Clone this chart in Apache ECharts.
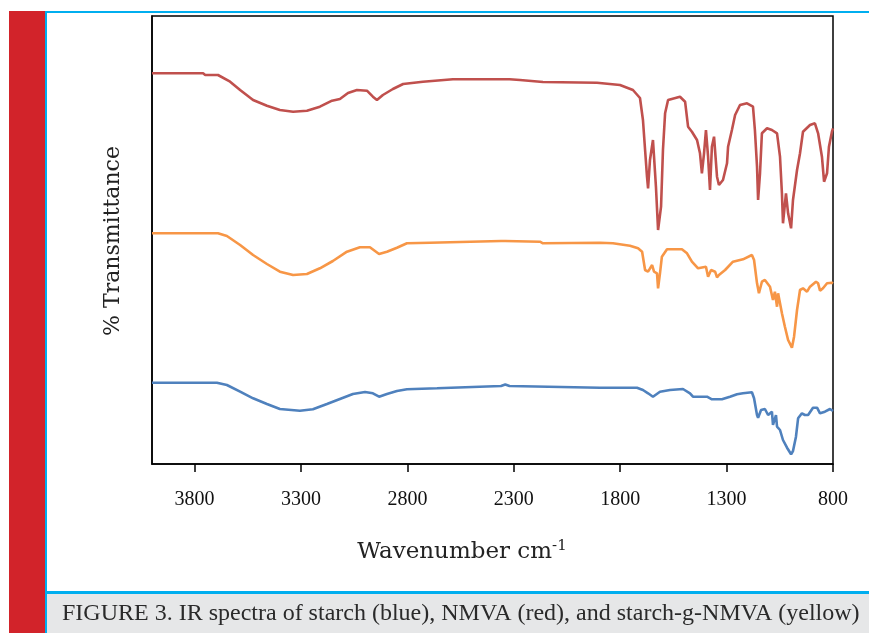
<!DOCTYPE html>
<html>
<head>
<meta charset="utf-8">
<script src="https://cdn.jsdelivr.net/npm/echarts@6/dist/echarts.min.js"></script>
<style>
  html, body { margin: 0; padding: 0; background: #fff; }
  #main { width: 869px; height: 633px; }
</style>
</head>
<body>
<div id="main"></div>
<script>
// x ticks (wavenumber, cm-1)
var tickValues = [3800, 3300, 2800, 2300, 1800, 1300, 800];

// NMVA (red) - offset transmittance, arbitrary units
var nmvaWn = [4000, 3760, 3750, 3690, 3633, 3586, 3525, 3460, 3399, 3337, 3272, 3211, 3154, 3117, 3079, 3037, 2990, 2962, 2943, 2915, 2868, 2820, 2727, 2586, 2340, 2332, 2320, 2271, 2163, 1909, 1801, 1740, 1707, 1693, 1683, 1674, 1669, 1660, 1646, 1641, 1632, 1622, 1608, 1599, 1589, 1575, 1519, 1495, 1481, 1463, 1439, 1425, 1416, 1406, 1397, 1387, 1378, 1369, 1359, 1345, 1336, 1317, 1298, 1293, 1275, 1260, 1237, 1204, 1176, 1167, 1157, 1152, 1143, 1134, 1110, 1087, 1063, 1049, 1040, 1035, 1021, 1011, 997, 988, 969, 955, 941, 908, 885, 870, 852, 842, 828, 819, 805, 800];
var nmvaT = [390.7, 390.7, 389, 389, 382.3, 374, 364, 358.3, 354, 352.3, 353.3, 357.3, 363.3, 365, 371, 374, 373.3, 367.3, 364, 369, 375, 380, 382.3, 384.7, 384.7, 386, 384.7, 384, 382, 381.3, 379, 374, 366, 344, 314, 287.3, 275.7, 304, 324, 307.3, 277.3, 234, 257.3, 314, 350.7, 364, 367.3, 362.3, 337.3, 332.3, 324, 310.7, 290.7, 310.7, 334, 307.3, 274, 317.3, 327.3, 287.3, 279, 284, 300.7, 317.3, 334, 349, 359, 360.7, 357.3, 334, 297.3, 264, 290.7, 330.7, 335.7, 334, 330.7, 307.3, 270.7, 240.7, 270.7, 250.7, 235.7, 264, 294, 310.7, 332.3, 339, 340.7, 330.7, 307.3, 282.3, 290.7, 317.3, 332.3, 335.7];

// starch-g-NMVA (yellow/orange)
var graftWn = [4000, 3690, 3648, 3586, 3525, 3460, 3399, 3337, 3272, 3211, 3150, 3084, 3023, 2976, 2933, 2896, 2849, 2802, 2694, 2360, 2351, 2340, 2177, 2163, 1895, 1834, 1754, 1716, 1697, 1683, 1669, 1650, 1641, 1627, 1622, 1613, 1604, 1580, 1510, 1486, 1463, 1434, 1397, 1387, 1373, 1354, 1345, 1336, 1307, 1270, 1223, 1181, 1171, 1157, 1148, 1134, 1120, 1096, 1082, 1073, 1063, 1058, 1040, 1026, 1011, 993, 983, 969, 955, 941, 922, 908, 880, 870, 861, 847, 828, 805, 800];
var graftT = [230.7, 230.7, 228, 219, 209, 200, 192.3, 189, 190, 195.7, 203, 212.3, 216.7, 216.7, 210, 212.3, 216.3, 220.7, 221.3, 223, 224.5, 223, 222.3, 220.7, 221.3, 220.7, 218.3, 215.7, 212.3, 194, 192.3, 199, 192.3, 190.7, 175.7, 190.7, 207.3, 214.7, 214.7, 210.7, 202.3, 195.7, 197.3, 187.3, 194, 192.3, 186.7, 189, 194, 202.3, 204.7, 209, 204, 180.7, 170.7, 182.3, 184, 177.3, 164, 172.3, 157.3, 170.7, 150.7, 137.3, 124, 116.3, 127.3, 154, 174, 175.7, 172.3, 177.3, 182.3, 180.7, 173.3, 175.7, 180.7, 181.3, 180.7];

// starch (blue)
var starchWn = [4000, 3695, 3648, 3586, 3525, 3460, 3399, 3305, 3244, 3178, 3117, 3056, 2999, 2962, 2933, 2896, 2849, 2802, 2661, 2656, 2360, 2340, 2320, 1895, 1721, 1693, 1669, 1646, 1613, 1566, 1505, 1472, 1458, 1392, 1369, 1322, 1284, 1251, 1223, 1181, 1171, 1157, 1152, 1138, 1120, 1105, 1087, 1082, 1068, 1063, 1049, 1035, 1016, 997, 988, 974, 964, 946, 932, 917, 894, 875, 861, 838, 814, 800];
var starchT = [81.3, 81.3, 79, 72.3, 65.7, 60, 55, 53.3, 54.7, 60, 65, 70, 72, 70.7, 67.3, 70, 73, 74.7, 75.7, 76.7, 78, 79.5, 78, 76.3, 76.3, 74, 70.7, 67.3, 72.3, 74, 75, 70.7, 67.3, 67.3, 64.7, 64.7, 67.3, 69.7, 70.7, 71.7, 65.7, 49, 46.3, 54, 55, 49, 52.3, 39, 49, 37.3, 34, 24, 16.3, 9.7, 13, 27.3, 45.7, 50.7, 49, 49, 56.3, 56.3, 50.7, 52.3, 55, 53];

function pairs(xs, ys) {
    return xs.map(function (x, i) { return [x, ys[i]]; });
}

var chart = echarts.init(document.getElementById('main'));

var lineSeries = function (name, color, xs, ys) {
    return {
        name: name,
        type: 'line',
        showSymbol: false,
        symbol: 'none',
        lineStyle: { color: color, width: 2.6 },
        data: pairs(xs, ys)
    };
};

var option = {
    animation: false,
    backgroundColor: '#fff',
    grid: {
        left: 152, right: 36, top: 16, bottom: 169,
        show: true, borderColor: '#000', borderWidth: 1.5
    },
    xAxis: {
        type: 'value',
        min: 800, max: 4000,
        inverse: true,
        axisLine: { show: true, lineStyle: { color: '#000', width: 1.5 } },
        axisTick: { show: true, customValues: tickValues, length: 8, inside: false, lineStyle: { color: '#000', width: 1.5 } },
        axisLabel: {
            customValues: tickValues, margin: 26,
            formatter: function (v) { return String(v); },
            fontFamily: 'Liberation Serif', fontSize: 20, color: '#111'
        },
        splitLine: { show: false }
    },
    yAxis: {
        type: 'value',
        min: 0, max: 448,
        axisLine: { show: true, lineStyle: { color: '#000', width: 1.5 } },
        axisTick: { show: false },
        axisLabel: { show: false },
        splitLine: { show: false }
    },
    series: [
        lineSeries('NMVA', '#C0504D', nmvaWn, nmvaT),
        lineSeries('starch-g-NMVA', '#F79646', graftWn, graftT),
        lineSeries('starch', '#4F81BD', starchWn, starchT)
    ],
    graphic: [
        // red side bar
        { type: 'rect', shape: { x: 9, y: 11, width: 36, height: 622 }, style: { fill: '#D2232A' }, silent: true },
        // blue frame lines
        { type: 'rect', shape: { x: 45, y: 11, width: 824, height: 2 }, style: { fill: '#00AEEF' }, silent: true },
        { type: 'rect', shape: { x: 45, y: 11, width: 2, height: 622 }, style: { fill: '#00AEEF' }, silent: true },
        // caption box
        { type: 'rect', shape: { x: 47, y: 594, width: 822, height: 39 }, style: { fill: '#E6E7E8' }, silent: true },
        { type: 'rect', shape: { x: 45, y: 591, width: 824, height: 3 }, style: { fill: '#00AEEF' }, silent: true },
        {
            type: 'text', left: 62, top: 602, silent: true,
            style: {
                text: 'FIGURE 3. IR spectra of starch (blue), NMVA (red), and starch-g-NMVA (yellow)',
                fontFamily: 'Liberation Serif', fontSize: 24, fill: '#2a2a2a'
            }
        },
        // axis titles
        {
            type: 'text', x: 113, y: 241, rotation: Math.PI / 2, silent: true,
            style: {
                text: '% Transmittance', align: 'center', verticalAlign: 'middle',
                fontFamily: 'DejaVu Serif', fontSize: 22, fill: '#222'
            }
        },
        {
            type: 'text', x: 462, y: 552, silent: true,
            style: {
                text: '{a|Wavenumber cm}{b|-1}', align: 'center', verticalAlign: 'middle',
                rich: {
                    a: { fontFamily: 'DejaVu Serif', fontSize: 23, fill: '#222' },
                    b: { fontFamily: 'DejaVu Serif', fontSize: 15, fill: '#222', verticalAlign: 'top', padding: [0, 0, 12, 0] }
                }
            }
        }
    ]
};

chart.setOption(option);
</script>
</body>
</html>
